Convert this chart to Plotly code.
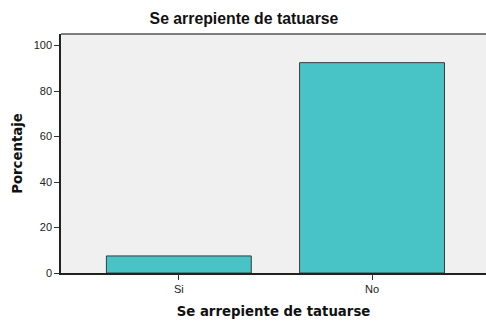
import plotly.graph_objects as go

categories = ["Si", "No"]
percentages = [7.5, 92.5]
y_ticks = [0, 20, 40, 60, 80, 100]

title_text = "Se arrepiente de tatuarse"

fig = go.Figure(
    go.Bar(
        x=[0, 1],
        y=percentages,
        width=0.75,
        marker=dict(color="#48C4C7", line=dict(color="#3a3a3a", width=1)),
        hoverinfo="skip",
    )
)

fig.update_layout(
    width=486,
    height=323,
    margin=dict(l=61, r=0, t=34, b=50),
    paper_bgcolor="white",
    plot_bgcolor="#F0F0F0",
    showlegend=False,
    font=dict(family="Arial, Liberation Sans, sans-serif", color="#222"),
    title=dict(
        text=title_text,
        xref="container",
        x=244 / 486,
        xanchor="center",
        y=1 - 18 / 323,
        yanchor="middle",
        font=dict(size=15.8, color="#111", family="Arial, Liberation Sans, sans-serif", weight="bold"),
    ),
)

axis_title_font = dict(family="DejaVu Sans, sans-serif", color="#111", weight="bold")

fig.update_xaxes(
    range=[-0.61, 1.59],
    tickvals=[0, 1],
    ticktext=categories,
    ticks="outside",
    ticklen=5,
    tickcolor="#333",
    tickfont=dict(size=11, color="#222"),
    showline=True,
    linecolor="#222",
    linewidth=1.5,
    showgrid=False,
    zeroline=False,
    title=dict(text=title_text, font=dict(size=13.3, **axis_title_font), standoff=13),
    automargin=False,
)

fig.update_yaxes(
    range=[0, 105.1],
    tickvals=y_ticks,
    ticks="outside",
    ticklen=5,
    tickcolor="#333",
    tickfont=dict(size=11, color="#222"),
    showline=True,
    linecolor="#222",
    linewidth=1.5,
    showgrid=False,
    zeroline=False,
    title=dict(text="Porcentaje", font=dict(size=13.3, **axis_title_font), standoff=8),
    automargin=False,
)

# frame line along the top of the plotting area
fig.add_shape(
    type="line", xref="paper", yref="paper",
    x0=0, x1=1, y0=1, y1=1,
    line=dict(color="#555", width=1.5),
)

fig.write_html("out.html")
